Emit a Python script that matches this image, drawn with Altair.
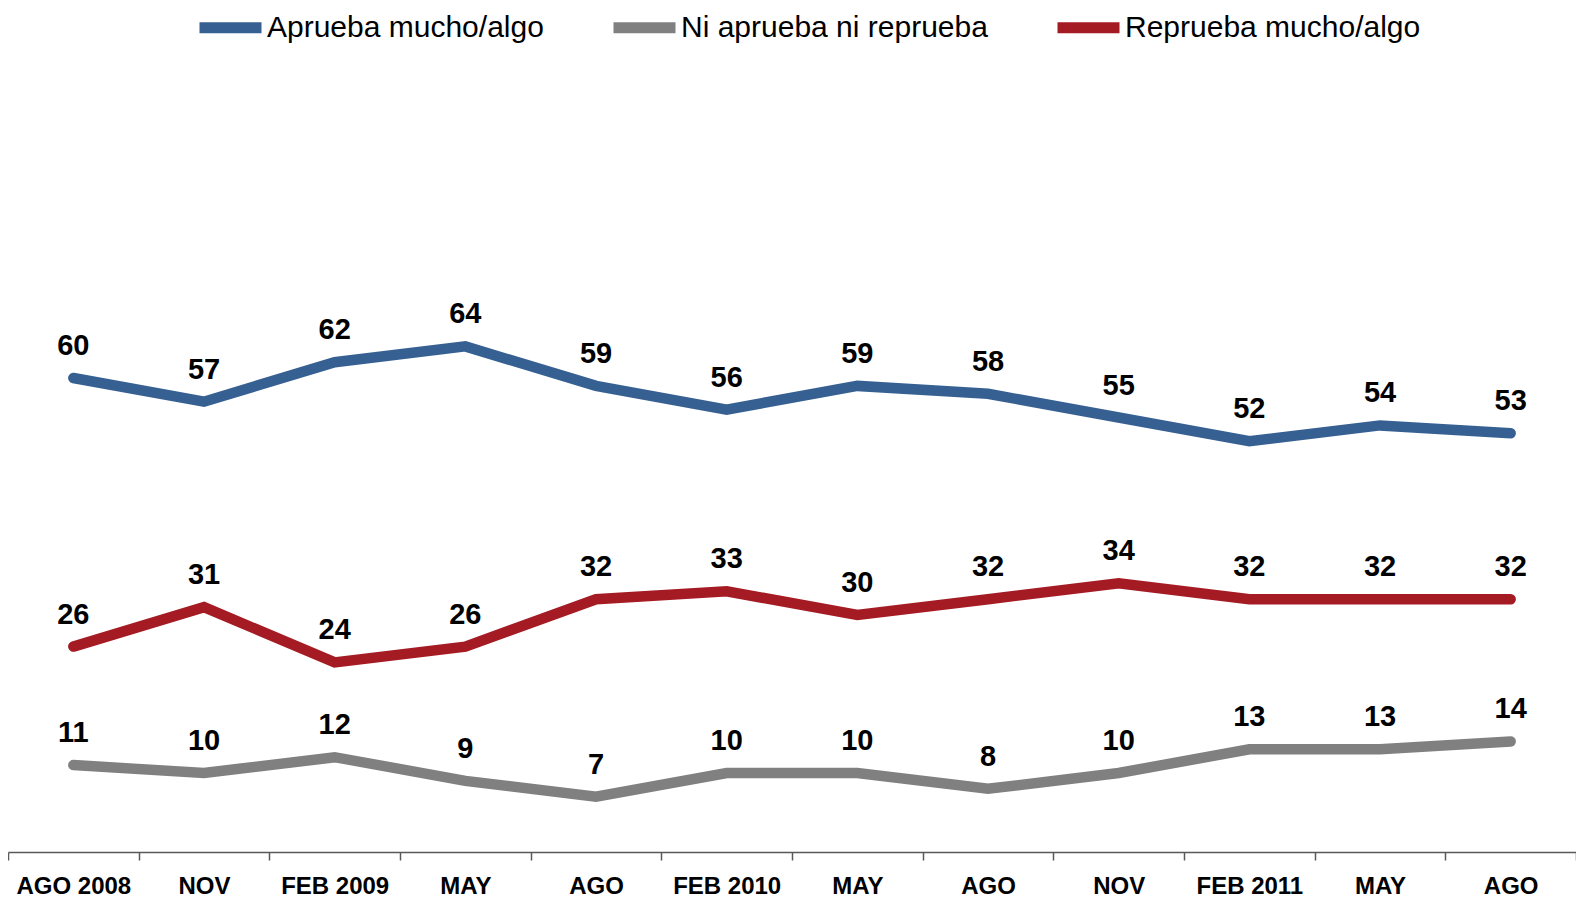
import altair as alt
import pandas as pd

periods = ["AGO 2008", "NOV", "FEB 2009", "MAY", "AGO", "FEB 2010", "MAY ", "AGO ", "NOV ", "FEB 2011", "MAY  ", "AGO  "]
aprueba = [60, 57, 62, 64, 59, 56, 59, 58, 55, 52, 54, 53]
ni = [11, 10, 12, 9, 7, 10, 10, 8, 10, 13, 13, 14]
reprueba = [26, 31, 24, 26, 32, 33, 30, 32, 34, 32, 32, 32]

series_names = ["Aprueba mucho/algo", "Ni aprueba ni reprueba", "Reprueba mucho/algo"]
series_colors = ["#376092", "#808080", "#A51B24"]

rows = []
for name, vals in zip(series_names, [aprueba, ni, reprueba]):
    for p, v in zip(periods, vals):
        rows.append({"periodo": p, "serie": name, "valor": v})
df = pd.DataFrame(rows)

FONT = "Liberation Sans"

x_enc = alt.X(
    "periodo:N",
    sort=periods,
    bandPosition=0.5,
    scale=alt.Scale(type="band", paddingInner=0, paddingOuter=0),
    axis=alt.Axis(
        title=None,
        tickBand="extent",
        labelAngle=0,
        labelFont=FONT,
        labelFontSize=24,
        labelFontWeight="bold",
        labelColor="#000000",
        labelBaseline="alphabetic",
        labelPadding=33,
        tickSize=8,
        tickColor="#595959",
        tickWidth=1.5,
        domainColor="#595959",
        domainWidth=1.5,
        grid=False,
    ),
)
y_enc = alt.Y("valor:Q", scale=alt.Scale(domain=[0, 100], nice=False), axis=None)

lines = alt.Chart(df).mark_line(strokeWidth=10.5, strokeCap="round", strokeJoin="miter").encode(
    x=x_enc,
    y=y_enc,
    color=alt.Color(
        "serie:N",
        scale=alt.Scale(domain=series_names, range=series_colors),
        legend=alt.Legend(
            title=None,
            orient="none",
            direction="horizontal",
            legendX=186,
            legendY=-71,
            symbolType="stroke",
            symbolSize=3844,
            symbolStrokeWidth=11,
            labelFont=FONT,
            labelFontSize=30,
            labelColor="#000000",
            labelOffset=0,
            labelLimit=0,
            columnPadding=47,
            padding=0,
        ),
    ),
    detail="serie:N",
)

labels = alt.Chart(df).mark_text(
    font=FONT, fontSize=29, fontWeight="bold", color="#000000", dy=-23, baseline="alphabetic", align="center"
).encode(x=x_enc, y=y_enc, text="valor:Q")

chart = (
    alt.layer(lines, labels)
    .properties(
        width=1568,
        height=790,
        padding={"top": 54, "left": 0, "right": 0, "bottom": 46},
        autosize=alt.AutoSizeParams(type="none"),
        background="white",
    )
    .configure_view(strokeWidth=0, stroke="transparent")
)

chart.save("out.html", embed_options={"renderer": "svg", "actions": False})
